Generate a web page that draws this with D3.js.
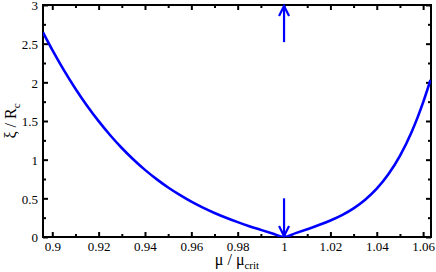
<!DOCTYPE html>
<html>
<head>
<meta charset="utf-8">
<script src="https://cdn.jsdelivr.net/npm/d3@7"></script>
<style>
  body { margin: 0; background: #fff; }
</style>
</head>
<body>
<div id="chart"></div>
<script>
// curve: mu / mu_crit vs xi / R_c
var muValues = [0.896, 0.90, 0.905, 0.91, 0.915, 0.92, 0.925, 0.93, 0.935, 0.94, 0.945,
                0.95, 0.955, 0.96, 0.965, 0.97, 0.975, 0.98, 0.985, 0.99, 0.995, 1.0,
                1.005, 1.01, 1.015, 1.02, 1.025, 1.03, 1.035, 1.04, 1.045, 1.05, 1.055,
                1.0575, 1.06, 1.0632];
var xiValues = [2.646, 2.42, 2.158, 1.918, 1.698, 1.498, 1.316, 1.151, 1.002, 0.868, 0.748,
                0.64, 0.544, 0.457, 0.38, 0.311, 0.249, 0.192, 0.14, 0.092, 0.045, 0.0,
                0.05, 0.101, 0.154, 0.214, 0.284, 0.371, 0.482, 0.625, 0.811, 1.05, 1.355,
                1.537, 1.74, 2.03];

// the two arrows at mu = mu_crit (from, to)
var arrows = [
  { mu: 1.0, from: 2.52, to: 3.0 },
  { mu: 1.0, from: 0.5, to: 0.0 }
];

var xMajor = [0.9, 0.92, 0.94, 0.96, 0.98, 1.0, 1.02, 1.04, 1.06];
var xMinor = [0.91, 0.93, 0.95, 0.97, 0.99, 1.01, 1.03, 1.05];
var yMajor = [0, 0.5, 1, 1.5, 2, 2.5, 3];
var yMinor = [0.25, 0.75, 1.25, 1.75, 2.25, 2.75];

var FONT = "Liberation Serif, Times New Roman, serif";
var W = 436, H = 272;
var mLeft = 43, mRight = 431, mTop = 5, mBottom = 237;

var svg = d3.select("#chart").append("svg")
    .attr("width", W)
    .attr("height", H);

var x = d3.scaleLinear().domain([0.896, 1.0634]).range([mLeft, mRight]);
var y = d3.scaleLinear().domain([0, 3]).range([mBottom, mTop]);

var fmt = function(d) { return String(+d.toFixed(2)); };

function styleAxis(g) {
  g.attr("font-family", FONT);
  g.select(".domain").remove();
  g.selectAll("line").attr("stroke", "#000").attr("stroke-width", 2);
  g.selectAll("text").attr("font-size", 13).attr("fill", "#000");
}

// major + minor ticks, all pointing inward
svg.append("g").attr("transform", "translate(0," + mBottom + ")")
   .call(d3.axisBottom(x).tickValues(xMajor).tickSize(-5).tickPadding(5).tickFormat(fmt))
   .call(styleAxis);
svg.append("g").attr("transform", "translate(0," + mBottom + ")")
   .call(d3.axisBottom(x).tickValues(xMinor).tickSize(-3).tickFormat(""))
   .call(styleAxis);
svg.append("g").attr("transform", "translate(0," + mTop + ")")
   .call(d3.axisTop(x).tickValues(xMajor).tickSize(-5).tickFormat(""))
   .call(styleAxis);
svg.append("g").attr("transform", "translate(0," + mTop + ")")
   .call(d3.axisTop(x).tickValues(xMinor).tickSize(-3).tickFormat(""))
   .call(styleAxis);

svg.append("g").attr("transform", "translate(" + mLeft + ",0)")
   .call(d3.axisLeft(y).tickValues(yMajor).tickSize(-5).tickPadding(5).tickFormat(fmt))
   .call(styleAxis)
   .selectAll("text").attr("dy", "0.36em");
svg.append("g").attr("transform", "translate(" + mLeft + ",0)")
   .call(d3.axisLeft(y).tickValues(yMinor).tickSize(-3).tickFormat(""))
   .call(styleAxis);
svg.append("g").attr("transform", "translate(" + mRight + ",0)")
   .call(d3.axisRight(y).tickValues(yMajor).tickSize(-5).tickFormat(""))
   .call(styleAxis);
svg.append("g").attr("transform", "translate(" + mRight + ",0)")
   .call(d3.axisRight(y).tickValues(yMinor).tickSize(-3).tickFormat(""))
   .call(styleAxis);

// frame
svg.append("rect")
   .attr("x", mLeft).attr("y", mTop)
   .attr("width", mRight - mLeft).attr("height", mBottom - mTop)
   .attr("fill", "none").attr("stroke", "#000").attr("stroke-width", 2);

// curve
var pts = muValues.map(function(m, i) { return [m, xiValues[i]]; });
var line = d3.line()
    .x(function(d) { return x(d[0]); })
    .y(function(d) { return y(d[1]); })
    .curve(d3.curveMonotoneX);

svg.append("defs").append("clipPath").attr("id", "clip")
   .append("rect").attr("x", mLeft).attr("y", mTop - 2)
   .attr("width", mRight - mLeft).attr("height", mBottom - mTop + 2);

svg.append("path")
   .datum(pts)
   .attr("clip-path", "url(#clip)")
   .attr("d", line)
   .attr("fill", "none")
   .attr("stroke", "#0000ff")
   .attr("stroke-width", 2.6);

// arrows
arrows.forEach(function(a) {
  var ax = x(a.mu), y0 = y(a.from), y1 = y(a.to);
  var dir = y1 < y0 ? 1 : -1;
  svg.append("line")
     .attr("x1", ax).attr("y1", y0).attr("x2", ax).attr("y2", y1)
     .attr("stroke", "#0000ff").attr("stroke-width", 2.2);
  svg.append("path")
     .attr("d", "M" + (ax - 5) + "," + (y1 + dir * 11) + "L" + ax + "," + (y1 + dir * 1) +
                "L" + (ax + 5) + "," + (y1 + dir * 11))
     .attr("fill", "none").attr("stroke", "#0000ff").attr("stroke-width", 2.2);
});

// axis titles
var xt = svg.append("text")
   .attr("x", (mLeft + mRight) / 2).attr("y", 265)
   .attr("text-anchor", "middle").attr("font-size", 16)
   .attr("font-family", FONT);
xt.append("tspan").text("\u03bc / \u03bc");
xt.append("tspan").attr("font-size", 11).attr("dy", 4).text("crit");

var yt = svg.append("text")
   .attr("transform", "translate(16," + (mTop + mBottom) / 2 + ") rotate(-90)")
   .attr("text-anchor", "middle").attr("font-size", 16)
   .attr("font-family", FONT);
yt.append("tspan").text("\u03be / R");
yt.append("tspan").attr("font-size", 11).attr("dy", 4).text("c");
</script>
</body>
</html>
